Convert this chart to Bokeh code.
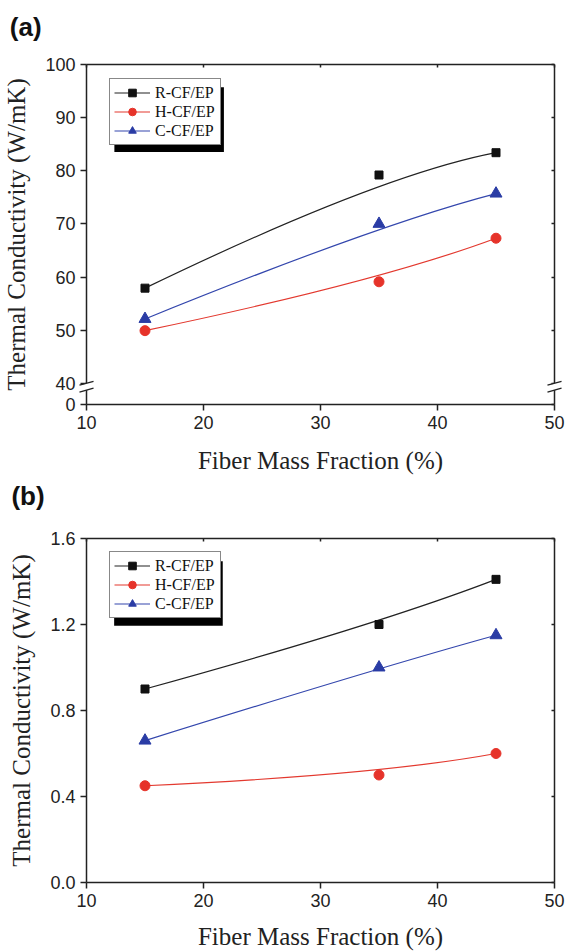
from bokeh.plotting import figure
from bokeh.layouts import column
from bokeh.models import (Legend, LegendItem, LinearAxis, FixedTicker, Range1d,
                          PrintfTickFormatter)
from bokeh.core.properties import value
from bokeh.embed import file_html
from bokeh.resources import INLINE

# ---------------- data ----------------
fiber = [15, 35, 45]                      # fiber mass fraction (%)
series_names = ["R-CF/EP", "H-CF/EP", "C-CF/EP"]

# panel (a)
a_r = [57.9, 79.2, 83.4]
a_h = [49.9, 59.1, 67.3]
a_c = [52.1, 70.0, 75.7]

# panel (b)
b_r = [0.90, 1.20, 1.41]
b_h = [0.45, 0.50, 0.60]
b_c = [0.66, 1.00, 1.15]

x_ticks = [10, 20, 30, 40, 50]
a_ticks = [36, 40, 50, 60, 70, 80, 90, 100]      # 36 = position of the "0" below the axis break
a_tick_labels = {36: "0"}
b_ticks = [0.0, 0.4, 0.8, 1.2, 1.6]
a_break = [40.0, 38.7]                            # axis break between these positions

# ---------------- style ----------------
SERIF = "Liberation Serif"
SANS = "Liberation Sans"
AX = "#222222"
marker_colors = ["#111111", "#e6332a", "#2a3ca5"]
line_colors = ["#222222", "#e3392f", "#3447ad"]
markers = ["square", "circle", "triangle"]
msizes = [8, 10, 12]


def style_axis(ax, labels=True):
    ax.axis_line_color = AX
    ax.axis_line_width = 1.5
    ax.major_tick_line_color = AX
    ax.major_tick_line_width = 1.5
    ax.minor_tick_line_color = None
    if labels:
        ax.major_tick_out = 6
        ax.major_tick_in = 0
        ax.major_label_text_font = SANS
        ax.major_label_text_font_size = "18px"
        ax.major_label_text_color = AX
        ax.major_label_standoff = 5
        ax.axis_label_text_font = SERIF
        ax.axis_label_text_font_size = "25px"
        ax.axis_label_text_font_style = "normal"
        ax.axis_label_text_color = AX
    else:
        ax.major_tick_out = 0
        ax.major_tick_in = 3
        ax.major_label_text_color = None


def build(title, ys, y0, y1, yticks, overrides, fmt, height, left, right, top, bottom,
          frame_h, xstand, title_up, brk=None):
    fw = 568.0 - left - right
    sx = 40.0 / fw
    sy = (y1 - y0) / frame_h
    p = figure(width=568, height=height, x_range=Range1d(10, 50), y_range=Range1d(y0, y1),
               output_backend="svg", toolbar_location=None,
               min_border_left=left, min_border_right=right, min_border_top=top,
               min_border_bottom=bottom)
    p.xgrid.visible = False
    p.ygrid.visible = False
    p.outline_line_color = None
    p.background_fill_color = "white"

    # panel tag "(a)" / "(b)" placed above the frame, left of the axis
    tag = p.text(x=[10 - (left - 7) * sx], y=[y1 + title_up * sy], text=[title],
                 text_font=value(SANS), text_font_style="bold", text_font_size="26px",
                 text_color="#111111", text_baseline="middle", text_align="left")
    tag.level = "overlay"

    xax = p.xaxis[0]
    yax = p.yaxis[0]
    xax.ticker = FixedTicker(ticks=x_ticks)
    yax.ticker = FixedTicker(ticks=yticks)
    if overrides:
        yax.major_label_overrides = overrides
    if fmt:
        yax.formatter = PrintfTickFormatter(format=fmt)
    xax.axis_label = "Fiber Mass Fraction (%)"
    yax.axis_label = "Thermal Conductivity (W/mK)"
    style_axis(xax)
    style_axis(yax)
    xax.axis_label_standoff = xstand
    yax.axis_label_standoff = 12

    rax = LinearAxis(ticker=FixedTicker(ticks=yticks))
    tax = LinearAxis(ticker=FixedTicker(ticks=x_ticks))
    style_axis(rax, labels=False)
    style_axis(tax, labels=False)
    p.add_layout(rax, "right")
    p.add_layout(tax, "above")

    items = []
    for i, (name, y) in enumerate(zip(series_names, ys)):
        c = p.quadratic(x0=[fiber[0]], y0=[y[0]], x1=[fiber[-1]], y1=[y[-1]],
                        cx=[fiber[1]], cy=[y[1]], line_color=line_colors[i], line_width=1.2)
        s = p.scatter(fiber, y, marker=markers[i], size=msizes[i],
                      fill_color=marker_colors[i], line_color=marker_colors[i])
        items.append(LegendItem(label=name, renderers=[c, s]))

    # legend shadow (offset black box)
    lw, lh = 110.0, 65.0
    lx, ly = 23.0, 18.0
    off = 5.0
    p.quad(left=[10 + (lx + off) * sx], right=[10 + (lx + off + lw) * sx],
           top=[y1 - (ly + off) * sy], bottom=[y1 - (ly + off + lh) * sy],
           fill_color="#000000", line_color=None)

    leg = Legend(items=items, location=(lx, frame_h - ly - lh),
                 label_text_font=SERIF, label_text_font_size="16px", label_text_color="#111111",
                 glyph_width=36, glyph_height=19, label_height=19, label_width=61,
                 label_standoff=5, padding=4, spacing=0, margin=0,
                 border_line_color="#111111", border_line_width=1,
                 background_fill_color="white", background_fill_alpha=1.0)
    p.add_layout(leg, "center")

    if brk is not None:
        hi, lo = brk
        d = 0.6
        k = 0.62
        e = 0.18
        for xb in (10, 50):
            gap = p.patch([xb - e, xb + e, xb + e, xb - e],
                          [hi - e * k, hi + e * k, lo + e * k, lo - e * k],
                          fill_color="white", line_color=None)
            gap.level = "overlay"
            sl = p.segment(x0=[xb - d, xb - d], y0=[hi - d * k, lo - d * k],
                           x1=[xb + d, xb + d], y1=[hi + d * k, lo + d * k],
                           line_color=AX, line_width=1.3)
            sl.level = "overlay"
    return p


pa = build("(a)", [a_r, a_h, a_c], a_ticks[0], 100, a_ticks, a_tick_labels, None,
           476, 84, 14, 64, 70, 342, 15, 38, brk=a_break)
pb = build("(b)", [b_r, b_h, b_c], 0.0, 1.6, b_ticks, None, "%.1f",
           476, 83, 11, 62, 67, 347, 13, 43)

layout = column(pa, pb, spacing=0)
open("out.html", "w").write(file_html(layout, INLINE))
